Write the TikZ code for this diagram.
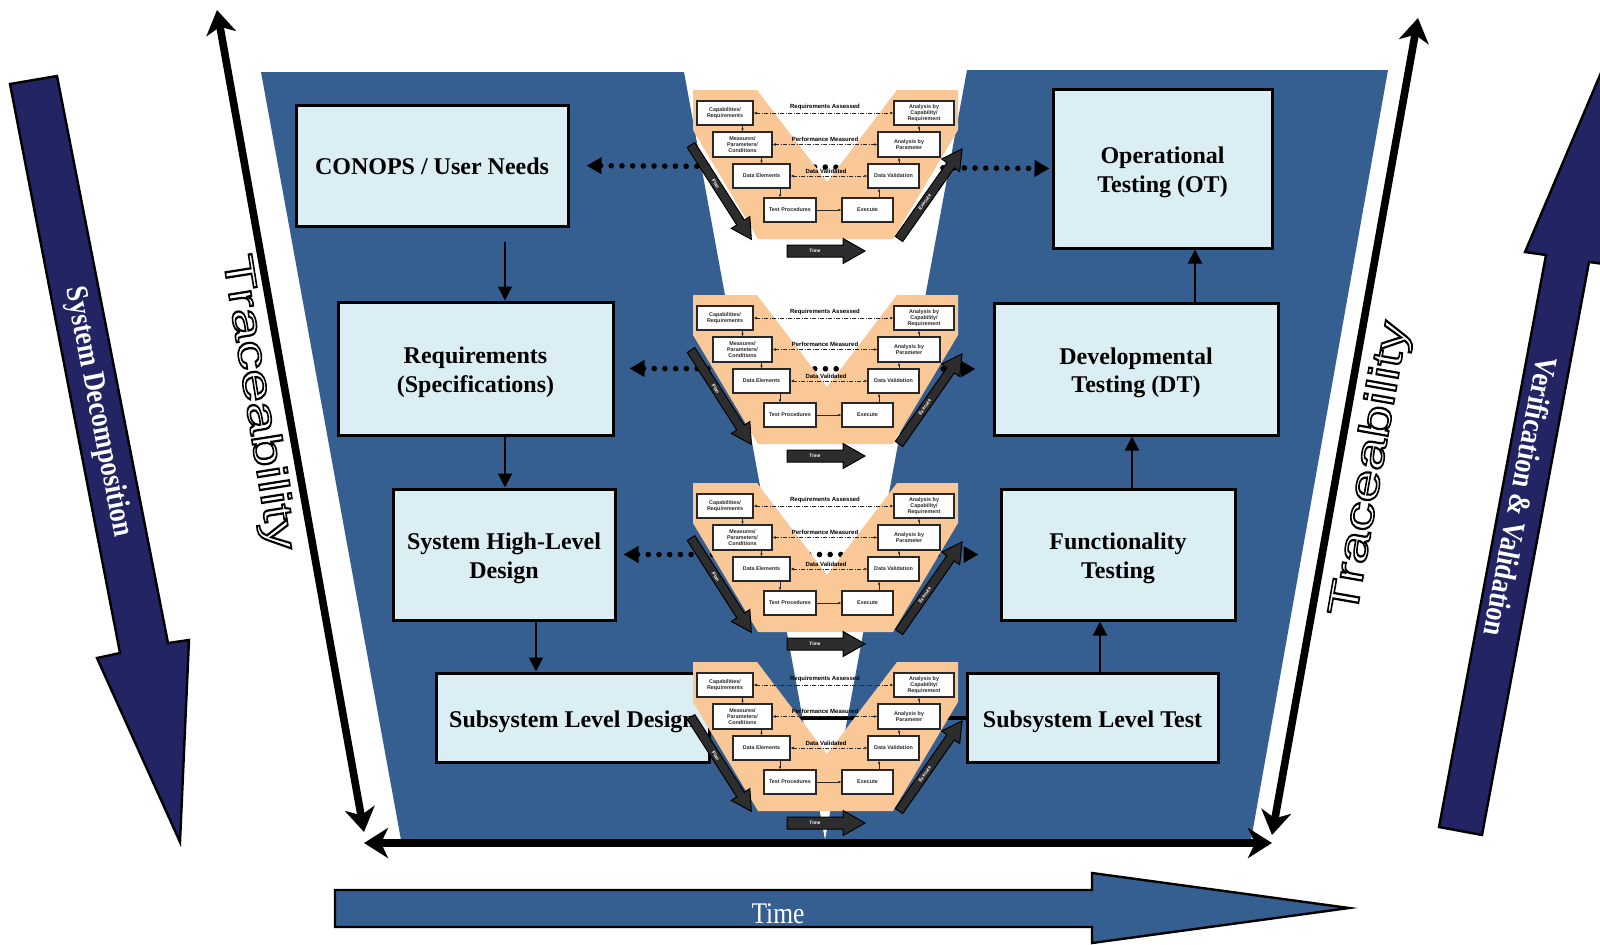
\documentclass[tikz,border=0pt]{standalone}
\usepackage{fontspec}
\usepackage{graphicx}
\setmainfont{Liberation Serif}
\setsansfont{Liberation Sans}
\usetikzlibrary{arrows.meta,calc}

\definecolor{vblue}{RGB}{54,95,145}
\definecolor{navy}{RGB}{34,36,100}
\definecolor{boxfill}{RGB}{219,238,244}
\definecolor{peach}{RGB}{250,199,150}
\definecolor{darkarr}{RGB}{45,45,45}
\definecolor{inkgray}{RGB}{40,40,40}

\tikzset{
  bigbox/.style={draw=black, line width=1.5pt, fill=boxfill, inner sep=0pt},
  boxtext/.style={align=center, inner sep=0pt, font=\bfseries\fontsize{12}{14.3}\selectfont},
  conn/.style={line width=1pt, -{Triangle[length=7pt,width=7pt]}},
  dotconn/.style={line width=2.8pt, line cap=round, dash pattern=on 0pt off 5.35pt,
    {Triangle[length=7.5pt,width=8pt]}-{Triangle[length=7.5pt,width=8pt]}},
  trace/.style={line width=3.8pt,
    {Stealth[length=12pt,width=15pt,inset=3.5pt]}-{Stealth[length=12pt,width=15pt,inset=3.5pt]}},
  sbox/.style={draw=inkgray, line width=0.55pt, fill=white, align=center, inner sep=0pt,
    font=\sffamily\bfseries\fontsize{2.7}{3}\selectfont, text=inkgray},
  slabel/.style={font=\sffamily\bfseries\fontsize{3}{3.4}\selectfont, text=black, inner sep=0pt},
  sarr/.style={line width=0.35pt, draw=inkgray, -{Latex[length=1.5pt,width=1.3pt]}},
  dasharr/.style={line width=0.35pt, draw=inkgray, dash pattern=on 2pt off 0.8pt on 0.4pt off 0.8pt,
    {Latex[length=1.6pt,width=1.4pt]}-{Latex[length=1.6pt,width=1.4pt]}},
  fatarr/.style={fill=darkarr, draw=black, line width=0.5pt},
  fattext/.style={text=white, font=\sffamily\bfseries\fontsize{2.4}{3}\selectfont, inner sep=0pt},
  navyarr/.style={fill=navy, draw=black, line width=1.2pt, line join=miter},
  sidetext/.style={text=white, inner sep=0pt, font=\bfseries\fontsize{15.5}{18}\selectfont},
  tracestyle/.style={inner sep=0pt, font=\sffamily\fontsize{21}{24}\selectfont},
}

% stage box; caption offset (px, downward) given as #6
\newcommand\stagebox[6]{%
  \node[bigbox, minimum width=#3, minimum height=#4] (#1) at #2 {};
  \node[boxtext] (#1t) at ($#2+(0,#6)$) {#5};}

% thick block arrow: name, start, angle, length, shaft width, head width, head length, label
\newcommand\fatarrow[8]{%
  \begin{scope}[shift={#2}, rotate=#3]
    \draw[fatarr] (0,{-#5/2}) -- ({#4-#7},{-#5/2}) -- ({#4-#7},{-#6/2}) -- (#4,0)
      -- ({#4-#7},{#6/2}) -- ({#4-#7},{#5/2}) -- (0,{#5/2}) -- cycle;
    \node[fattext, transform shape] (#1) at ({(#4-#7)/2},0) {#8};
  \end{scope}}

% small V-model test panel: top y, name prefix
\newcommand\vpanel[2]{%
  \begin{scope}[shift={(693,#1)}]
    \fill[peach] (0,0) -- (0,40) -- (65,149) -- (200,149) -- (265,40) -- (265,0)
      -- (204,0) -- (134,92) -- (64,0) -- cycle;
    \node[sbox, minimum width=28pt, minimum height=12pt] (#2a) at (32,23) {Capabilities/\\Requirements};
    \node[sbox, minimum width=29.5pt, minimum height=12.5pt] (#2b) at (49.5,54.5) {Measures/\\Parameters/\\Conditions};
    \node[sbox, minimum width=28.5pt, minimum height=12pt] (#2c) at (68.5,86) {Data Elements};
    \node[sbox, minimum width=26pt, minimum height=12pt] (#2d) at (97,120) {Test Procedures};
    \node[sbox, minimum width=25.5pt, minimum height=12pt] (#2e) at (174.5,120) {Execute};
    \node[sbox, minimum width=25.5pt, minimum height=12pt] (#2f) at (200.5,86) {Data Validation};
    \node[sbox, minimum width=31pt, minimum height=12.5pt] (#2g) at (216,54.5) {Analysis by\\Parameter};
    \node[sbox, minimum width=30pt, minimum height=12pt] (#2h) at (231,23) {Analysis by\\Capability/\\Requirement};
    \coordinate (#2dn) at ([xshift=-5pt]#2d.north);
    \coordinate (#2fs) at ([xshift=-7.25pt]#2f.south);
    \coordinate (#2gs) at ([xshift=-5pt]#2g.south);
    \coordinate (#2hs) at ([xshift=-2.5pt]#2h.south);
    \draw[sarr] (#2b.north |- #2a.south) -- (#2b.north);
    \draw[sarr] (#2c.north |- #2b.south) -- (#2c.north);
    \draw[sarr] (#2dn |- #2c.south) -- (#2dn);
    \draw[sarr] (#2d.east) -- (#2e.west);
    \draw[sarr] (#2fs |- #2e.north) -- (#2fs);
    \draw[sarr] (#2gs |- #2f.north) -- (#2gs);
    \draw[sarr] (#2hs |- #2g.north) -- (#2hs);
    \draw[dasharr] (#2a.east) -- (#2h.west);
    \draw[dasharr] (#2b.east) -- (#2g.west);
    \draw[dasharr] (#2c.east) -- (#2f.west);
    \node[slabel] (#2la) at (132,17) {Requirements Assessed};
    \node[slabel] (#2lb) at (132,49) {Performance Measured};
    \node[slabel] (#2lc) at (133,81) {Data Validated};
    \fatarrow{#2plan}{(-2,55)}{-57.4}{112}{9}{22}{20}{Plan}
    \fatarrow{#2exec}{(206,149)}{55}{110}{9}{22}{20}{Execute}
    \fatarrow{#2time}{(94,161)}{0}{78}{12}{25}{22}{Time}
  \end{scope}}

% hollow lettering: glyph outlines stroked, not filled
\newcommand\hollow[1]{\special{pdf:literal direct 1 Tr 0.8 w}#1\special{pdf:literal direct 0 Tr}}
\newcommand\tracetext{\scalebox{1.4}[1]{\hollow{Traceability}}}

\begin{document}
\begin{tikzpicture}[x=0.5pt,y=-0.5pt]
  \useasboundingbox (0,0) rectangle (1600,944);
  \clip (0,0) rectangle (1600,944);

  % side process arrows
  \draw[navyarr] (10,84) -- (57,76) -- (168,643) -- (189,640) -- (180,842) -- (97,658) -- (120,653) -- cycle;
  \draw[navyarr] (1439,827) -- (1482,835) -- (1589,262) -- (1611,265) -- (1603,68) -- (1525,252) -- (1546,255) -- cycle;
  \node[sidetext, rotate=-79] (sdtext) at (98,412) {\scalebox{0.85}[1]{System Decomposition}};
  \node[sidetext, rotate=-101] (vvtext) at (1521,497) {\scalebox{0.85}[1]{Verification \& Validation}};

  % V background
  \fill[vblue] (261,72) -- (684,72) -- (825,840) -- (967,70) -- (1388,70) -- (1251,840) -- (401,840) -- cycle;

  % left leg
  \stagebox{conops}{(432,165.5)}{136pt}{60.5pt}{CONOPS / User Needs}{1}
  \stagebox{req}{(475.5,368.5)}{137.5pt}{66.5pt}{Requirements\\(Specifications)}{4}
  \stagebox{sys}{(504,554.5)}{111pt}{65.5pt}{System High-Level\\Design}{4}
  \stagebox{sld}{(572.5,717.5)}{136.5pt}{44.5pt}{Subsystem Level Design}{4}
  % right leg
  \stagebox{ot}{(1162.5,168.5)}{109.5pt}{79.5pt}{Operational\\Testing (OT)}{4}
  \stagebox{dt}{(1136,369)}{142pt}{66pt}{Developmental\\Testing (DT)}{4}
  \stagebox{func}{(1118,554.5)}{117pt}{65.5pt}{Functionality\\Testing}{4}
  \stagebox{slt}{(1092.5,717.5)}{125.5pt}{44.5pt}{Subsystem Level Test}{4}

  % cross links between legs
  \draw[dotconn, shorten <=8.5pt, shorten >=1pt] (conops.east) -- (ot.west);
  \draw[dotconn, shorten <=7.5pt, shorten >=8.5pt] (req.east) -- (dt.west);
  \draw[dotconn, shorten <=3.5pt, shorten >=10.5pt] (sys.east) -- (func.west);
  \draw[line width=2pt] (sld.east) -- (slt.west);

  % flow down the left leg and up the right leg
  \coordinate (xa) at (505,0);
  \coordinate (xb) at (536,0);
  \coordinate (xc) at (1100,0);
  \coordinate (xd) at (1132,0);
  \coordinate (xe) at (1195,0);
  \draw[conn] ($(conops.south -| xa)+(0,14)$) -- (req.north -| xa);
  \draw[conn] (req.south -| xa) -- (sys.north -| xa);
  \draw[conn] (sys.south -| xb) -- (sld.north -| xb);
  \draw[conn] (slt.north -| xc) -- (func.south -| xc);
  \draw[conn] (func.north -| xd) -- (dt.south -| xd);
  \draw[conn] (dt.north -| xe) -- (ot.south -| xe);

  % test panels
  \vpanel{90}{pa}
  \vpanel{295}{pb}
  \vpanel{483}{pc}
  \vpanel{662}{pd}

  % traceability arrows
  \coordinate (tla) at (217,10);
  \coordinate (tlb) at (364,832);
  \coordinate (tra) at (1418,18);
  \coordinate (trb) at (1272,835);
  \coordinate (tha) at (364,843);
  \coordinate (thb) at (1272,843);
  \draw[trace] (tla) -- (tlb);
  \draw[trace] (tra) -- (trb);
  \draw[trace] (tha) -- (thb);
  \node[tracestyle, rotate=-81] (tracel) at (257,403) {\tracetext};
  \node[tracestyle, rotate=80] (tracer) at (1371,469) {\tracetext};

  % time axis
  \draw[fill=vblue, draw=black, line width=1.2pt, line join=miter] (335,890) -- (1092,890) -- (1092,873)
    -- (1349,908) -- (1092,943) -- (1092,927) -- (335,927) -- cycle;
  \node[text=white, inner sep=0pt, font=\fontsize{15}{18}\selectfont] (timelbl) at (778,914) {\scalebox{0.85}[1]{Time}};
\end{tikzpicture}
\end{document}
